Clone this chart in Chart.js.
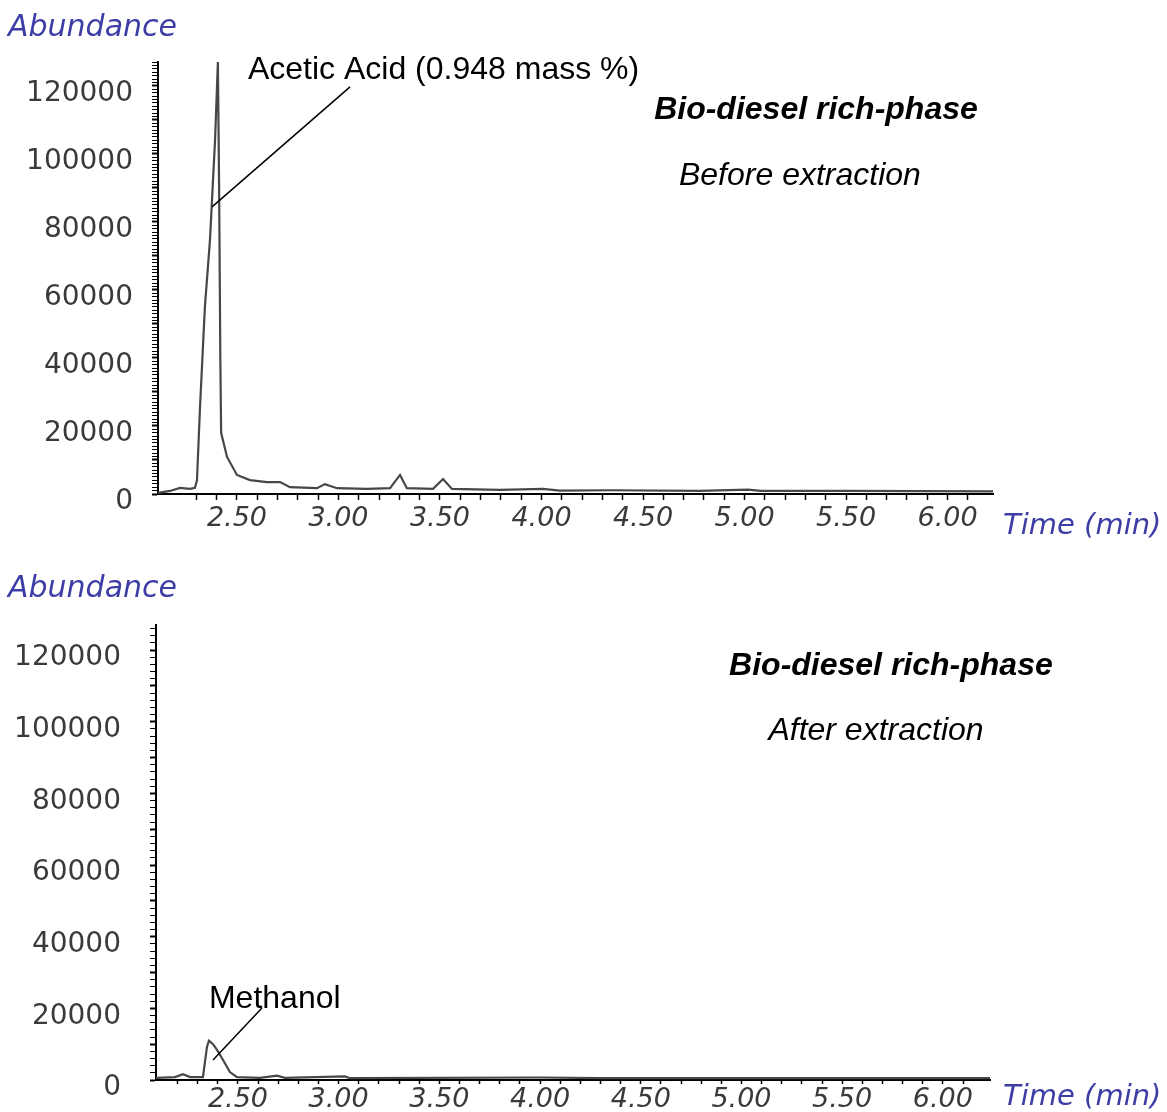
<!DOCTYPE html>
<html>
<head>
<meta charset="utf-8">
<title>Bio-diesel rich-phase chromatograms</title>
<script src="https://cdn.jsdelivr.net/npm/chart.js@4.4.1/dist/chart.umd.min.js"></script>
<style>
    html, body { margin: 0; padding: 0; background: #fff; }
    .panel { position: relative; width: 1167px; height: 556px; }
</style>
</head>
<body>
<div class="panel"><canvas id="before" width="1167" height="556"></canvas></div>
<div class="panel"><canvas id="after" width="1167" height="556"></canvas></div>
<script>
'use strict';

// retention time (min) and abundance
var beforeTimes = [2.111, 2.170, 2.219, 2.268, 2.293, 2.303, 2.318, 2.342, 2.367, 2.392, 2.406,
    2.412, 2.418, 2.422, 2.451, 2.500, 2.564, 2.648, 2.712, 2.761, 2.894, 2.933, 2.993,
    3.140, 3.254, 3.303, 3.337, 3.466, 3.515, 3.559, 3.796, 4.007, 4.090, 4.340, 4.780,
    5.017, 5.080, 5.520, 6.224];
var beforeAbundance = [300, 900, 1800, 1500, 1800, 4000, 25600, 55000, 74700, 104000, 127000,
    90000, 40000, 18000, 10900, 5600, 4100, 3500, 3500, 2000, 1700, 2900, 1700,
    1500, 1700, 5600, 1700, 1500, 4400, 1500, 1200, 1500, 1000, 1100, 900,
    1300, 900, 900, 800];

var afterTimes = [2.093, 2.187, 2.227, 2.262, 2.326, 2.336, 2.346, 2.356, 2.376, 2.396, 2.426,
    2.460, 2.495, 2.609, 2.694, 2.733, 3.031, 3.056, 4.000, 4.300, 6.234];
var afterAbundance = [600, 800, 1600, 800, 800, 5000, 9200, 11000, 10000, 8400, 5600,
    2200, 800, 600, 1200, 600, 1000, 500, 700, 500, 500];

var yTickLabels = [0, 20000, 40000, 60000, 80000, 100000, 120000];
var xTickLabels = [2.5, 3.0, 3.5, 4.0, 4.5, 5.0, 5.5, 6.0];

var ARIAL = '"Liberation Sans", Arial, sans-serif';
var BLUE = '#3d3da6';

var textPlugin = {
    id: 'chromText',
    afterDraw: function(chart, args, opts) {
        var ctx = chart.ctx;
        var xs = chart.scales.x;
        var ys = chart.scales.y;
        ctx.save();
        ctx.textBaseline = 'middle';
        ctx.textAlign = 'left';
        ctx.fillStyle = BLUE;
        ctx.font = 'italic 30px "DejaVu Sans"';
        ctx.fillText('Abundance', 8, opts.abundanceY);
        ctx.font = 'italic 29px "DejaVu Sans"';
        ctx.fillText('Time (min)', xs.right + opts.timeDx, xs.top + opts.timeDy);

        ctx.fillStyle = '#000';
        opts.notes.forEach(function(n) {
            ctx.font = n.font;
            ctx.textAlign = n.align;
            ctx.fillText(n.text, xs.getPixelForValue(n.x), ys.getPixelForValue(n.y));
        });

        ctx.strokeStyle = '#000';
        ctx.lineWidth = 1.5;
        ctx.beginPath();
        ctx.moveTo(xs.getPixelForValue(opts.leader[0]), ys.getPixelForValue(opts.leader[1]));
        ctx.lineTo(xs.getPixelForValue(opts.leader[2]), ys.getPixelForValue(opts.leader[3]));
        ctx.stroke();
        ctx.restore();
    }
};

function onStep(step) {
    return function(axis) {
        axis.ticks = axis.ticks.filter(function(t) {
            var k = t.value / step;
            return Math.abs(k - Math.round(k)) < 1e-6;
        });
    };
}

// fixed axis sizes, and no extra room for half labels at the ends
function fixSize(key, size) {
    return function(s) {
        s[key] = size;
        s.paddingTop = 0;
        s.paddingBottom = 0;
        s.paddingLeft = 0;
        s.paddingRight = 0;
    };
}

function makeChart(id, times, values, o) {
    var points = times.map(function(t, i) { return { x: t, y: values[i] }; });
    return new Chart(document.getElementById(id).getContext('2d'), {
        type: 'line',
        data: {
            datasets: [{
                data: points,
                borderColor: '#474747',
                borderWidth: 2.2,
                pointRadius: 0,
                tension: 0
            }]
        },
        options: {
            responsive: false,
            animation: false,
            layout: { padding: o.padding },
            plugins: {
                legend: { display: false },
                tooltip: { enabled: false },
                chromText: o.text
            },
            scales: {
                x: {
                    type: 'linear',
                    min: o.xMin,
                    max: o.xMax,
                    afterFit: fixSize('height', o.xHeight),
                    afterBuildTicks: onStep(0.1),
                    border: { color: '#000', width: 2 },
                    grid: {
                        drawOnChartArea: false,
                        tickLength: o.xTickLength,
                        tickColor: '#000',
                        tickWidth: 1.5
                    },
                    ticks: {
                        stepSize: 0.1,
                        autoSkip: false,
                        maxRotation: 0,
                        padding: o.xPad,
                        color: '#3a3a3a',
                        font: { family: 'DejaVu Sans', size: 27, style: 'italic' },
                        callback: function(v) {
                            var hit = xTickLabels.some(function(l) { return Math.abs(l - v) < 1e-6; });
                            return hit ? v.toFixed(2) : '';
                        }
                    }
                },
                y: {
                    min: 0,
                    max: 127000,
                    afterFit: fixSize('width', o.yWidth),
                    afterBuildTicks: onStep(o.yStep),
                    border: { color: '#000', width: 2 },
                    grid: {
                        drawOnChartArea: false,
                        tickLength: 6,
                        tickColor: '#000',
                        tickWidth: function(c) { return c.tick && c.tick.value % 10000 === 0 ? 2 : 1; }
                    },
                    ticks: {
                        stepSize: 1000,
                        autoSkip: false,
                        padding: o.yPad,
                        labelOffset: 8,
                        color: '#3a3a3a',
                        font: { family: 'DejaVu Sans', size: 28 },
                        callback: function(v) {
                            return yTickLabels.indexOf(v) >= 0 ? String(v) : '';
                        }
                    }
                }
            }
        },
        plugins: [textPlugin]
    });
}

makeChart('before', beforeTimes, beforeAbundance, {
    padding: { left: 0, top: 62, right: 174, bottom: 0 },
    xMin: 2.111, xMax: 6.224, xHeight: 62, xTickLength: 6, xPad: 3,
    yWidth: 158, yStep: 1000, yPad: 19,
    text: {
        abundanceY: 28, timeDx: 10, timeDy: 32,
        leader: [3.057, 119700, 2.377, 84400],
        notes: [
            { text: 'Acetic Acid (0.948 mass %)', x: 2.554, y: 124500, align: 'left', font: '32px ' + ARIAL },
            { text: 'Bio-diesel rich-phase', x: 5.352, y: 112800, align: 'center', font: 'italic bold 32px ' + ARIAL },
            { text: 'Before extraction', x: 5.273, y: 93400, align: 'center', font: 'italic 32px ' + ARIAL }
        ]
    }
});

makeChart('after', afterTimes, afterAbundance, {
    padding: { left: 0, top: 69, right: 177, bottom: 0 },
    xMin: 2.093, xMax: 6.234, xHeight: 32, xTickLength: 4, xPad: 0,
    yWidth: 156, yStep: 2000, yPad: 29,
    text: {
        abundanceY: 33, timeDx: 13, timeDy: 17,
        leader: [2.619, 20100, 2.376, 5600],
        notes: [
            { text: 'Methanol', x: 2.356, y: 22500, align: 'left', font: '32px ' + ARIAL },
            { text: 'Bio-diesel rich-phase', x: 5.742, y: 115400, align: 'center', font: 'italic bold 32px ' + ARIAL },
            { text: 'After extraction', x: 5.668, y: 97500, align: 'center', font: 'italic 32px ' + ARIAL }
        ]
    }
});
</script>
</body>
</html>
